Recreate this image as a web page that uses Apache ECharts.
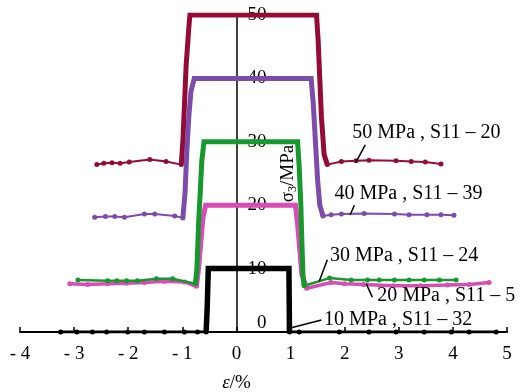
<!DOCTYPE html>
<html>
<head>
<meta charset="utf-8">
<script src="https://cdn.jsdelivr.net/npm/echarts@6/dist/echarts.min.js"></script>
<style>
html,body{margin:0;padding:0;background:#fff;}
#c{width:522px;height:392px;}
</style>
</head>
<body>
<div id="c"></div>
<script>
// ---------- DATA ----------
const xTicks = [-4, -3, -2, -1, 0, 1, 2, 3, 4, 5];
const yTicks = [0, 10, 20, 30, 40, 50];

// 50 MPa, S11-20
const c50Left  = [[-2.58,26.4],[-2.45,26.6],[-2.30,26.7],[-2.15,26.6],[-1.98,26.8],[-1.60,27.2],[-1.30,26.9],[-1.02,26.4]];
const c50Core  = [[-0.99,30],[-0.96,36],[-0.93,42],[-0.88,48],[-0.86,50],[1.48,50],[1.51,46],[1.54,40],[1.57,34],[1.62,28]];
const c50Right = [[1.68,26.4],[1.94,26.9],[2.21,27.0],[2.45,27.1],[2.95,27.0],[3.23,26.9],[3.49,26.8],[3.78,26.5]];

// 40 MPa, S11-39
const c40Left  = [[-2.62,18.1],[-2.42,18.2],[-2.25,18.2],[-2.07,18.1],[-1.70,18.6],[-1.51,18.6],[-1.14,18.3],[-0.99,18.0]];
const c40Core  = [[-0.95,22],[-0.92,28],[-0.88,34],[-0.84,38],[-0.78,40],[1.38,40],[1.42,36],[1.46,30],[1.50,24],[1.54,20]];
const c40Right = [[1.60,18.3],[1.75,18.5],[1.94,18.6],[2.36,18.7],[2.92,18.6],[3.19,18.5],[3.52,18.5],[3.78,18.5],[4.02,18.4]];

// 30 MPa, S11-24
const c30Left  = [[-2.93,8.2],[-2.38,8.1],[-2.21,8.1],[-2.03,8.1],[-1.83,8.1],[-1.48,8.4],[-1.18,8.4],[-0.76,7.6]];
const c30Core  = [[-0.73,10],[-0.70,17],[-0.67,22],[-0.64,27],[-0.60,30],[1.13,30],[1.16,26],[1.19,20],[1.21,14],[1.23,9]];
const c30Right = [[1.25,7.3],[1.72,8.5],[2.12,8.2],[2.42,8.2],[2.64,8.2],[2.92,8.2],[3.19,8.2],[3.47,8.2],[3.75,8.2],[4.06,8.2]];

// 20 MPa, S11-5
const c20Left  = [[-3.08,7.6],[-2.75,7.5],[-2.38,7.6],[-2.03,7.7],[-1.70,7.8],[-1.33,8.0],[-0.96,7.9],[-0.74,7.2]];
const c20Core  = [[-0.70,10],[-0.66,14],[-0.62,18],[-0.57,20],[1.09,20],[1.13,17],[1.17,13],[1.21,9]];
const c20Right = [[1.30,6.9],[1.75,7.8],[2.00,7.6],[2.35,7.5],[2.90,7.3],[3.40,7.3],[3.90,7.4],[4.30,7.5],[4.67,7.8]];

// 10 MPa, S11-32
const c10Left  = [[-3.25,0],[-2.95,0],[-2.66,0],[-2.40,0],[-2.01,0],[-1.70,0],[-1.33,0],[-0.96,0],[-0.72,0],[-0.56,0]];
const c10Core  = [[-0.54,4],[-0.52,10],[0.97,10]];
const c10Right = [[0.98,0],[1.16,0],[1.90,0],[2.45,0],[2.95,0],[3.47,0],[3.97,0],[4.30,0],[4.80,0]];

const curveNames = ['50 MPa , S11 – 20','40 MPa , S11 – 39','30 MPa , S11 – 24','20 MPa , S11 – 5','10 MPa , S11 – 32'];

// annotation anchors in data units: [text pos], [leader from], [leader to]
const annText = [[2.14,31.5],[1.81,21.8],[1.73,12.1],[2.60,5.7],[1.62,1.9]];
const annFrom = [[2.38,29.5],[2.18,20.0],[1.68,11.4],[2.40,7.6],[1.57,1.9]];
const annTo   = [[2.21,26.8],[2.10,18.45],[1.53,8.0],[2.51,5.5],[0.98,0.6]];

// ---------- STYLE ----------
const FONT = 'Liberation Serif';
const curves = [
  {L:c50Left, C:c50Core, R:c50Right, color:'#940C36', thin:2, thick:5},
  {L:c40Left, C:c40Core, R:c40Right, color:'#7D4CAA', thin:2, thick:5},
  {L:c20Left, C:c20Core, R:c20Right, color:'#D84CB6', thin:3.5, thick:5},
  {L:c30Left, C:c30Core, R:c30Right, color:'#17982C', thin:2.5, thick:5},
  {L:c10Left, C:c10Core, R:c10Right, color:'#000000', thin:3, thick:5.5}
];

const series = [];
curves.forEach((c, i) => {
  const core = [c.L[c.L.length-1]].concat(c.C, [c.R[0]]);
  series.push({type:'line', data:c.L, symbol:'circle', symbolSize:5, showSymbol:true,
    lineStyle:{color:c.color, width:c.thin}, itemStyle:{color:c.color}, z:2+i, silent:true});
  series.push({type:'line', data:core, symbol:'none',
    lineStyle:{color:c.color, width:c.thick, join:'miter'}, z:2+i, silent:true});
  series.push({type:'line', data:c.R, symbol:'circle', symbolSize:5, showSymbol:true,
    lineStyle:{color:c.color, width:c.thin}, itemStyle:{color:c.color}, z:2+i, silent:true});
});

const chart = echarts.init(document.getElementById('c'), null, {renderer:'canvas'});
chart.setOption({
  animation:false,
  grid:{left:20, right:15, top:15, bottom:60, containLabel:false, outerBoundsMode:'none'},
  xAxis:{type:'value', min:xTicks[0], max:xTicks[xTicks.length-1], interval:1,
    axisLine:{onZero:false, lineStyle:{color:'#000', width:2}},
    axisTick:{inside:true, length:5, lineStyle:{color:'#000', width:1.5}},
    splitLine:{show:false},
    axisLabel:{margin:13, color:'#000', fontFamily:FONT, fontSize:19,
      formatter:v => v < 0 ? '- ' + Math.abs(v) : String(v)}
  },
  yAxis:{type:'value', min:yTicks[0], max:yTicks[yTicks.length-1], interval:10, offset:0,
    axisLine:{onZero:false, lineStyle:{color:'#000', width:1.5}},
    axisTick:{inside:false, length:4, lineStyle:{color:'#000', width:1.5}},
    splitLine:{show:false},
    axisLabel:{inside:true, align:'right', margin:30, color:'#000', fontFamily:FONT, fontSize:19,
      formatter:v => v === 0 ? '{z|0}' : String(v),
      rich:{z:{fontFamily:FONT, fontSize:19, color:'#000', padding:[0,0,18,0]}}},
    name:'{a|σ}{b|3}{a|/MPa}', nameLocation:'middle', nameGap:-62, nameRotate:90, nameMoveOverlap:false,
    nameTextStyle:{rich:{
      a:{fontFamily:FONT, fontSize:19, color:'#000'},
      b:{fontFamily:FONT, fontSize:12, color:'#000', verticalAlign:'bottom', padding:[8,0,0,0]}
    }}
  },
  series:series
});

// move the y axis to x = 0 using the chart's own scale
const p0 = chart.convertToPixel({gridIndex:0}, [0, 0]);
const pL = chart.convertToPixel({gridIndex:0}, [xTicks[0], 0]);
chart.setOption({yAxis:{offset:-(p0[0] - pL[0])}});

// annotations (positioned through the chart's own coordinate conversion)
const g = [];
annText.forEach((p, i) => {
  const tp = chart.convertToPixel({gridIndex:0}, p);
  const a = chart.convertToPixel({gridIndex:0}, annFrom[i]);
  const b = chart.convertToPixel({gridIndex:0}, annTo[i]);
  g.push({type:'text', x:tp[0], y:tp[1], z:50, silent:true,
    style:{text:curveNames[i], fill:'#000', font:'20px "Liberation Serif"', textAlign:'left', textVerticalAlign:'middle'}});
  g.push({type:'line', z:50, silent:true, shape:{x1:a[0], y1:a[1], x2:b[0], y2:b[1]},
    style:{stroke:'#000', lineWidth:1.5}});
});
const p0b = chart.convertToPixel({gridIndex:0}, [0, 0]);
g.push({type:'text', x:p0b[0], y:383, z:50, silent:true,
  style:{rich:{e:{font:'italic 19px "Liberation Serif"', fill:'#000'}, p:{font:'19px "Liberation Serif"', fill:'#000'}},
    text:'{e|ε}{p|/%}', textAlign:'center', textVerticalAlign:'middle'}});
chart.setOption({graphic:g});
</script>
</body>
</html>
